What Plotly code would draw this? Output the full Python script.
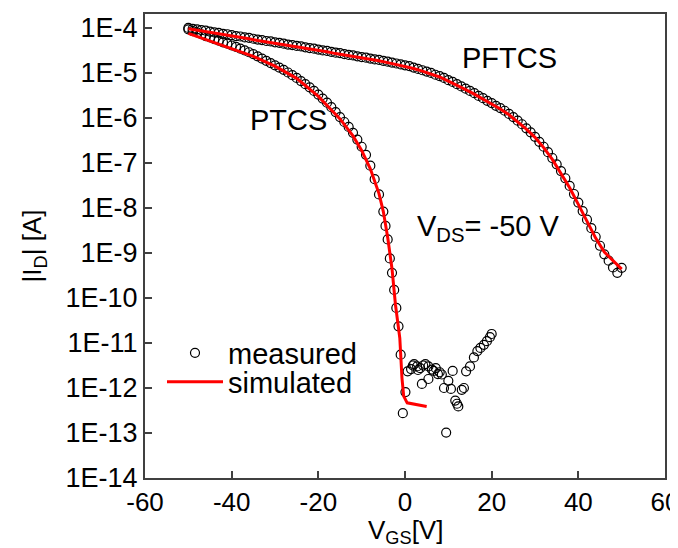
import plotly.graph_objects as go

# ---------------- data (log10 of |I_D| in A) ----------------
# PFTCS measured, V_GS from -50 to 50 V in 1 V steps
pftcs_meas_vgs = list(range(-50, 51))
pftcs_meas_log = [
    -4.00, -4.02, -4.03, -4.05, -4.06, -4.08, -4.10, -4.11, -4.13, -4.14,
    -4.16, -4.18, -4.19, -4.21, -4.22, -4.24, -4.26, -4.27, -4.29, -4.30,
    -4.32, -4.33, -4.35, -4.37, -4.38, -4.40, -4.41, -4.43, -4.45, -4.46,
    -4.48, -4.50, -4.51, -4.53, -4.55, -4.56, -4.58, -4.60, -4.61, -4.63,
    -4.65, -4.66, -4.68, -4.70, -4.71, -4.73, -4.75, -4.77, -4.79, -4.81,
    -4.83, -4.85, -4.88, -4.91, -4.94, -4.97, -5.00, -5.04, -5.07, -5.11,
    -5.16, -5.20, -5.25, -5.30, -5.35, -5.40, -5.45, -5.51, -5.56, -5.62,
    -5.67, -5.73, -5.78, -5.84, -5.91, -5.98, -6.06, -6.14, -6.23, -6.32,
    -6.42, -6.53, -6.64, -6.76, -6.89, -7.03, -7.18, -7.34, -7.51, -7.69,
    -7.88, -8.07, -8.26, -8.45, -8.64, -8.84, -9.03, -9.17, -9.32, -9.44,
    -9.33,
]

# PFTCS simulated, 2 V steps
pftcs_sim_vgs = list(range(-50, 51, 2))
pftcs_sim_log = [
    -4.02, -4.05, -4.08, -4.12, -4.15, -4.18, -4.21, -4.24, -4.28, -4.31,
    -4.34, -4.37, -4.40, -4.43, -4.47, -4.50, -4.53, -4.57, -4.60, -4.63,
    -4.67, -4.70, -4.73, -4.77, -4.81, -4.85, -4.90, -4.96, -5.02, -5.09,
    -5.18, -5.27, -5.37, -5.47, -5.58, -5.69, -5.80, -5.93, -6.08, -6.25,
    -6.43, -6.66, -6.92, -7.22, -7.55, -7.92, -8.30, -8.67, -8.98, -9.18,
    -9.36,
]

# PTCS measured
ptcs_meas_vgs = [
    -50, -49, -48, -47, -46, -45, -44, -43, -42, -41,
    -40, -39, -38, -37, -36, -35, -34, -33, -32, -31,
    -30, -29, -28, -27, -26, -25, -24, -23, -22, -21,
    -20, -19, -18, -17, -16, -15, -14, -13, -12, -11,
    -10, -9, -8, -7, -6, -5,
    -4.5, -4.0, -3.5, -3.0, -2.5, -2.0, -1.5, -1.0,
    -0.5, 0.1, 0.6, 1.4, 1.8, 2.1, 2.8, 3.0, 3.5, 3.9, 4.2, 4.7, 5.4, 5.4,
    6.2, 6.6, 7.1, 7.6, 8.0, 8.5, 9.0, 9.5, 10.0, 10.6, 11.0, 11.6, 12.0,
    12.3, 13.1, 13.6, 14.1, 15.0, 15.9, 16.7, 17.4, 18.2, 18.9, 19.6, 20.0,
]
ptcs_meas_log = [
    -4.03, -4.07, -4.10, -4.14, -4.18, -4.21, -4.25, -4.28, -4.32, -4.35,
    -4.39, -4.42, -4.46, -4.50, -4.54, -4.58, -4.63, -4.68, -4.73, -4.78,
    -4.83, -4.88, -4.93, -4.99, -5.05, -5.11, -5.18, -5.25, -5.32, -5.40,
    -5.48, -5.57, -5.66, -5.76, -5.87, -5.98, -6.09, -6.20, -6.33, -6.48,
    -6.64, -6.82, -7.06, -7.36, -7.70, -8.08,
    -8.40, -8.70, -9.12, -9.44, -9.82, -10.22, -10.63, -11.26,
    -12.56, -12.09, -11.63, -11.58, -11.50, -11.47, -11.52, -11.60, -11.56,
    -11.91, -11.50, -11.47, -11.52, -11.80,
    -11.59, -11.62, -11.56, -11.69, -11.65, -11.70, -12.00, -12.99, -11.84,
    -12.02, -11.62, -12.28, -12.35,
    -12.41, -12.04, -12.00, -11.63, -11.52, -11.32, -11.18, -11.11, -11.04,
    -10.96, -10.87, -10.80,
]

# PTCS simulated
ptcs_sim_vgs = [-50, -45, -40, -35, -30, -25, -20, -15, -12, -10, -8, -6,
                -5, -4, -3, -2.2, -1.2, -0.7, -0.3, 0.5, 5]
ptcs_sim_log = [-4.12, -4.29, -4.46, -4.63, -4.85, -5.12, -5.52, -6.02,
                -6.40, -6.72, -7.13, -7.68, -8.08, -8.65, -9.35, -10.15,
                -10.89, -11.78, -12.18, -12.33, -12.41]

x_ticks = [-60, -40, -20, 0, 20, 40, 60]
x_tick_text = ["-60", "-40", "-20", "0", "20", "40", "60"]
y_tick_exp = [-14, -13, -12, -11, -10, -9, -8, -7, -6, -5, -4]
y_tick_text = ["1E-14", "1E-13", "1E-12", "1E-11", "1E-10", "1E-9",
               "1E-8", "1E-7", "1E-6", "1E-5", "1E-4"]


def tolin(vals):
    return [10 ** v for v in vals]


FONT = "Liberation Sans, Arial, sans-serif"
marker_style = dict(symbol="circle-open", size=9, color="black",
                    line=dict(width=1.2, color="black"))
line_style = dict(color="#ff0000", width=3)

L_M, R_M, T_M, B_M = 137, 21, 6, 78
PW = 678 - L_M - R_M
PH = 548 - T_M - B_M

fig = go.Figure()
fig.add_trace(go.Scatter(x=ptcs_meas_vgs, y=tolin(ptcs_meas_log), mode="markers",
                         marker=marker_style, name="measured", legend="legend"))
fig.add_trace(go.Scatter(x=pftcs_meas_vgs, y=tolin(pftcs_meas_log), mode="markers",
                         marker=marker_style, name="measured", showlegend=False))
fig.add_trace(go.Scatter(x=ptcs_sim_vgs, y=tolin(ptcs_sim_log), mode="lines",
                         line=line_style, name="simulated", legend="legend2"))
fig.add_trace(go.Scatter(x=pftcs_sim_vgs, y=tolin(pftcs_sim_log), mode="lines",
                         line=line_style, name="simulated", showlegend=False))

axis_common = dict(showline=True, linecolor="#404040", linewidth=2, mirror=True,
                   ticks="inside", ticklen=7, tickwidth=1.5, tickcolor="#404040",
                   showgrid=False, zeroline=False, automargin=False)

fig.update_layout(
    width=678, height=548,
    margin=dict(l=L_M, r=R_M, t=T_M, b=B_M),
    paper_bgcolor="white", plot_bgcolor="white",
    font=dict(family=FONT, color="black"),
    xaxis=dict(range=[-60, 60], tickvals=x_ticks, ticktext=x_tick_text,
               tickfont=dict(family=FONT, size=26, color="black"),
               **axis_common),
    yaxis=dict(type="log", range=[-14, -3.69],
               tickvals=[10 ** e for e in y_tick_exp], ticktext=y_tick_text,
               tickfont=dict(family=FONT, size=27, color="black"),
               title=dict(text="|I<sub>D</sub>| [A]", font=dict(family=FONT, size=26),
                          standoff=16),
               **axis_common),
    legend=dict(x=(154 - L_M) / PW, y=(470 - 345) / PH, xanchor="left", yanchor="middle",
                bgcolor="rgba(0,0,0,0)", font=dict(family=FONT, size=29),
                itemwidth=56),
    legend2=dict(x=(154 - L_M) / PW, y=(470 - 374) / PH, xanchor="left", yanchor="middle",
                 bgcolor="rgba(0,0,0,0)", font=dict(family=FONT, size=29),
                 itemwidth=56),
    annotations=[
        dict(x=24.2, y=-4.67, xref="x", yref="y", text="PFTCS", showarrow=False,
             font=dict(family=FONT, size=29)),
        dict(x=-26.8, y=-6.04, xref="x", yref="y", text="PTCS", showarrow=False,
             font=dict(family=FONT, size=29)),
        dict(x=19.2, y=-8.45, xref="x", yref="y", text="V<sub>DS</sub>= -50 V",
             showarrow=False, font=dict(family=FONT, size=29)),
        dict(x=0.5, y=(470 - 542) / PH, xref="paper", yref="paper",
             text="V<sub>GS</sub>[V]", showarrow=False, yanchor="bottom",
             font=dict(family=FONT, size=26)),
    ],
)

fig.write_html("out.html")
